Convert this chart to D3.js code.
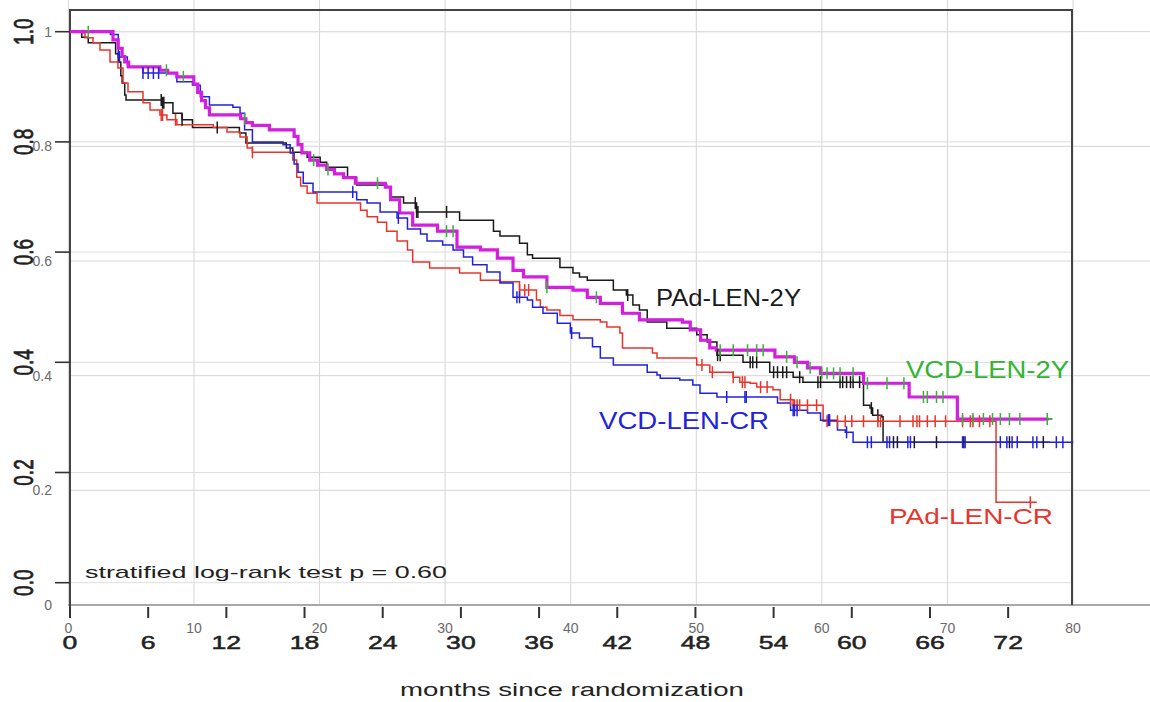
<!DOCTYPE html>
<html>
<head>
<meta charset="utf-8">
<script src="https://cdn.jsdelivr.net/npm/d3@7"></script>
<style>
  html, body { margin: 0; padding: 0; background: #fff; }
  svg { display: block; font-family: "Liberation Sans", Arial, sans-serif; }
</style>
</head>
<body>
<svg id="chart" width="1150" height="702"></svg>
<script>
// ---------- data (months since randomization, survival probability) ----------
const pad2yTimes = [0.9, 1.4, 3.5, 3.7, 3.9, 4.0, 4.2, 4.3, 7.1, 7.9, 8.6, 9.4, 13.0, 13.5, 16.6, 17.1, 18.2, 19.2, 19.7, 21.3, 22.0, 24.3, 24.6, 25.6, 26.6, 29.9, 32.5, 33.0, 34.5, 35.1, 35.5, 37.6, 38.6, 39.1, 39.7, 41.7, 42.7, 43.2, 43.7, 44.3, 45.8, 48.1, 48.9, 49.65, 51.65, 53.7, 55.5, 56.25, 60.9, 61.4, 61.6, 62.3, 62.4];
const pad2ySurv  = [0.99, 0.98, 0.96, 0.945, 0.92, 0.907, 0.885, 0.876, 0.871, 0.852, 0.84, 0.826, 0.816, 0.798, 0.789, 0.781, 0.772, 0.763, 0.754, 0.736, 0.722, 0.718, 0.70, 0.689, 0.673, 0.658, 0.638, 0.629, 0.616, 0.595, 0.589, 0.572, 0.562, 0.555, 0.549, 0.531, 0.522, 0.504, 0.495, 0.473, 0.462, 0.45, 0.437, 0.413, 0.40, 0.382, 0.373, 0.364, 0.322, 0.317, 0.304, 0.301, 0.255];
const pad2yEnd = 75.2;
const pad2yCensor = [7.0, 7.1, 7.2, 8.6, 11.3, 26.5, 26.6, 26.7, 28.9, 42.8, 49.7, 49.9, 52.2, 52.4, 52.7, 54.0, 54.3, 54.7, 55.0, 56.0, 57.4, 57.6, 59.1, 59.3, 59.6, 59.9, 60.1, 60.6, 61.5, 62.0, 63.2, 63.5, 64.8, 66.5, 68.6, 72.1, 74.7];

const padCrTimes = [0.92, 1.15, 1.77, 2.3, 3.07, 3.68, 4.07, 4.45, 5.6, 6.14, 6.9, 7.44, 8.2, 11.0, 12.05, 13.05, 13.6, 14.0, 17.1, 17.4, 17.7, 18.2, 18.96, 22.3, 22.8, 23.6, 24.3, 25.1, 25.9, 26.3, 27.6, 29.9, 31.5, 33.0, 34.5, 35.8, 36.1, 36.6, 37.6, 38.6, 40.7, 41.2, 42.2, 42.4, 44.7, 45.05, 48.1, 49.1, 50.9, 51.4, 52.2, 52.7, 53.95, 54.5, 55.5, 57.8, 71.07];
const padCrSurv  = [0.998, 0.989, 0.98, 0.967, 0.945, 0.934, 0.907, 0.891, 0.871, 0.858, 0.849, 0.84, 0.831, 0.826, 0.818, 0.809, 0.789, 0.781, 0.767, 0.736, 0.72, 0.707, 0.689, 0.676, 0.664, 0.654, 0.638, 0.62, 0.604, 0.582, 0.571, 0.562, 0.549, 0.546, 0.531, 0.513, 0.50, 0.495, 0.485, 0.477, 0.473, 0.464, 0.453, 0.426, 0.417, 0.408, 0.395, 0.382, 0.373, 0.364, 0.362, 0.355, 0.35, 0.332, 0.322, 0.293, 0.146];
const padCrEnd = 74.2;
const padCrCensor = [7.0, 7.1, 8.1, 14.0, 34.5, 34.9, 35.2, 48.5, 49.3, 50.9, 51.6, 51.8, 53.0, 53.5, 55.3, 55.6, 55.8, 56.0, 56.6, 57.3, 58.1, 58.9, 59.5, 60.0, 60.9, 62.0, 62.2, 63.7, 64.7, 65.0, 65.2, 65.8, 66.4, 67.2, 68.5, 69.1, 69.3, 69.8, 70.6, 73.7];

const vcdCrTimes = [3.1, 3.7, 4.4, 5.6, 8.2, 9.4, 10.0, 10.7, 12.5, 13.05, 13.4, 14.0, 16.35, 16.9, 17.2, 17.5, 17.9, 18.65, 22.0, 22.8, 23.8, 25.1, 25.9, 26.9, 27.4, 28.6, 29.4, 30.2, 30.9, 32.0, 33.0, 34.0, 35.1, 35.5, 36.3, 37.4, 38.4, 39.1, 40.1, 40.7, 41.7, 44.3, 45.05, 45.3, 46.8, 47.8, 48.35, 49.65, 54.3, 55.3, 56.6, 57.6, 58.9, 59.5, 60.1];
const vcdCrSurv  = [0.995, 0.954, 0.936, 0.925, 0.909, 0.903, 0.882, 0.867, 0.863, 0.852, 0.822, 0.80, 0.795, 0.78, 0.76, 0.745, 0.725, 0.709, 0.695, 0.689, 0.673, 0.662, 0.642, 0.633, 0.62, 0.613, 0.604, 0.591, 0.577, 0.564, 0.544, 0.518, 0.513, 0.50, 0.489, 0.471, 0.453, 0.444, 0.428, 0.408, 0.395, 0.382, 0.377, 0.371, 0.368, 0.359, 0.344, 0.337, 0.326, 0.313, 0.308, 0.295, 0.277, 0.273, 0.255];
const vcdCrEnd = 77.0;
const vcdCrCensor = [3.8, 5.6, 6.0, 6.4, 6.8, 21.7, 25.2, 34.3, 34.5, 38.5, 50.4, 51.8, 51.9, 55.5, 55.6, 55.8, 58.2, 58.3, 59.6, 61.2, 61.5, 62.7, 62.9, 64.3, 64.5, 68.5, 68.7, 71.4, 71.9, 72.3, 72.7, 73.9, 74.2, 75.7, 76.2];

const vcd2yTimes = [3.3, 3.7, 4.0, 4.2, 4.5, 6.9, 7.5, 8.2, 9.5, 9.8, 10.1, 10.4, 10.7, 13.1, 13.5, 14.0, 15.3, 17.2, 17.5, 17.8, 18.4, 19.0, 19.7, 20.3, 21.0, 21.9, 24.2, 24.6, 25.3, 26.3, 28.2, 29.7, 31.5, 32.8, 34.0, 34.8, 36.6, 38.6, 39.7, 40.7, 42.4, 43.7, 47.0, 47.6, 48.4, 49.1, 49.6, 54.1, 55.6, 56.6, 57.6, 60.9, 64.4, 68.1];
const vcd2ySurv  = [0.985, 0.97, 0.955, 0.945, 0.936, 0.930, 0.925, 0.918, 0.905, 0.89, 0.875, 0.862, 0.849, 0.842, 0.835, 0.83, 0.822, 0.81, 0.795, 0.78, 0.767, 0.758, 0.75, 0.742, 0.735, 0.725, 0.718, 0.695, 0.671, 0.649, 0.638, 0.609, 0.604, 0.589, 0.567, 0.555, 0.536, 0.531, 0.518, 0.507, 0.489, 0.477, 0.473, 0.459, 0.44, 0.426, 0.422, 0.41, 0.40, 0.39, 0.38, 0.362, 0.337, 0.297];
const vcd2yEnd = 75.4;
const vcd2yCensor = [1.4, 7.4, 8.7, 13.4, 18.7, 19.8, 23.6, 28.9, 29.4, 36.6, 40.4, 49.9, 50.9, 52.0, 52.7, 53.2, 55.0, 55.8, 56.8, 57.7, 58.1, 58.6, 59.1, 60.1, 61.2, 62.7, 64.0, 65.5, 65.8, 66.5, 67.0, 68.5, 69.3, 70.1, 70.8, 71.4, 72.1, 72.9, 75.0];

// tick labels
const monthTicks = [0, 6, 12, 18, 24, 30, 36, 42, 48, 54, 60, 66, 72];
const survTicks = [0.0, 0.2, 0.4, 0.6, 0.8, 1.0];
const bgXTicks = [0, 10, 20, 30, 40, 50, 60, 70, 80];
const bgYTicks = [0, 0.2, 0.4, 0.6, 0.8, 1];

// ---------- scales ----------
const svg = d3.select("#chart");
const x = d3.scaleLinear().domain([0, 77]).range([70, 1073.3]);
const y = d3.scaleLinear().domain([0, 1]).range([582.7, 31.7]);
const gx = d3.scaleLinear().domain([0, 80]).range([68.4, 1073]);
const gy = d3.scaleLinear().domain([0, 1]).range([605, 31.7]);

svg.append("rect").attr("width", 1150).attr("height", 702).attr("fill", "#fff");

// ---------- background grid (second coordinate system) ----------
const bg = svg.append("g");
bg.selectAll("line.bgv").data(bgXTicks).join("line")
  .attr("x1", d => gx(d)).attr("x2", d => gx(d)).attr("y1", 0).attr("y2", 605)
  .attr("stroke", "#d6d6d6").attr("stroke-width", 1);
bg.selectAll("line.bgh").data(bgYTicks.filter(d => d > 0)).join("line")
  .attr("x1", 70).attr("x2", 1150).attr("y1", d => gy(d)).attr("y2", d => gy(d))
  .attr("stroke", "#d6d6d6").attr("stroke-width", 1);
bg.append("line").attr("x1", 68).attr("x2", 1150).attr("y1", gy(0)).attr("y2", gy(0))
  .attr("stroke", "#a8a8a8").attr("stroke-width", 2);
bg.selectAll("text.bgx").data(bgXTicks).join("text")
  .attr("x", d => gx(d)).attr("y", 633).attr("text-anchor", "middle")
  .attr("font-size", 14).attr("fill", "#6a6a6a").text(d => d);
bg.selectAll("text.bgy").data(bgYTicks).join("text")
  .attr("x", 52).attr("y", d => gy(d) + 5).attr("text-anchor", "end")
  .attr("font-size", 14).attr("fill", "#6a6a6a").text(d => d === 0 ? "0" : d === 1 ? "1" : d.toFixed(1));

// foreground horizontal grid
svg.selectAll("line.fgh").data(survTicks).join("line")
  .attr("x1", 70).attr("x2", 1072).attr("y1", d => y(d)).attr("y2", d => y(d))
  .attr("stroke", "#dedede").attr("stroke-width", 1);

// ---------- frame and axes ----------
svg.append("path").attr("d", "M70,618 L70,10 L1072,10 L1072,605")
  .attr("fill", "none").attr("stroke", "#444").attr("stroke-width", 2);

svg.selectAll("line.yt").data(survTicks).join("line")
  .attr("x1", 55).attr("x2", 70).attr("y1", d => y(d)).attr("y2", d => y(d))
  .attr("stroke", "#333").attr("stroke-width", 1.6);
svg.selectAll("text.yl").data(survTicks).join("text")
  .attr("transform", d => `translate(33,${y(d)}) rotate(-90) scale(1,1.45)`)
  .attr("text-anchor", "middle").attr("font-size", 19).attr("fill", "#222")
  .attr("stroke", "#222").attr("stroke-width", 0.5)
  .text(d => d.toFixed(1));

svg.selectAll("line.xt").data(monthTicks).join("line")
  .attr("x1", d => x(d)).attr("x2", d => x(d)).attr("y1", 607).attr("y2", 618)
  .attr("stroke", "#333").attr("stroke-width", 2);
svg.selectAll("text.xl").data(monthTicks).join("text")
  .attr("transform", d => `translate(${x(d)},649) scale(1.4,1)`)
  .attr("text-anchor", "middle").attr("font-size", 19).attr("fill", "#222")
  .attr("stroke", "#222").attr("stroke-width", 0.5)
  .text(d => d);

svg.append("text").attr("x", 400).attr("y", 696)
  .attr("textLength", 344).attr("lengthAdjust", "spacingAndGlyphs")
  .attr("font-size", 18).attr("fill", "#222").text("months since randomization");

// ---------- curves ----------
function steps(times, surv, end) {
  const pts = [[0, 1]];
  times.forEach((t, i) => pts.push([t, surv[i]]));
  pts.push([end, surv[surv.length - 1]]);
  return pts;
}
function survAt(times, surv, t) {
  const i = d3.bisectRight(times, t);
  return i === 0 ? 1 : surv[i - 1];
}
const line = d3.line().x(d => x(d[0])).y(d => y(d[1])).curve(d3.curveStepAfter);

const series = [
  { name: "pad2y", times: pad2yTimes, surv: pad2ySurv, end: pad2yEnd, cens: pad2yCensor, color: "#1a1a1a", width: 1.5 },
  { name: "padcr", times: padCrTimes, surv: padCrSurv, end: padCrEnd, cens: padCrCensor, color: "#e8352c", width: 1.5 },
  { name: "vcdcr", times: vcdCrTimes, surv: vcdCrSurv, end: vcdCrEnd, cens: vcdCrCensor, color: "#2222dd", width: 1.5 },
  { name: "vcd2y", times: vcd2yTimes, surv: vcd2ySurv, end: vcd2yEnd, cens: vcd2yCensor, color: "#33b533", width: 2 }
];

series.forEach(s => {
  svg.append("path").datum(steps(s.times, s.surv, s.end))
    .attr("d", line).attr("fill", "none")
    .attr("stroke", s.color).attr("stroke-width", s.width);
});
// magenta overlay of VCD-LEN-2Y
svg.append("path").datum(steps(vcd2yTimes, vcd2ySurv, vcd2yEnd - 0.3))
  .attr("d", line).attr("fill", "none")
  .attr("stroke", "#d41fe0").attr("stroke-width", 3.2);

series.forEach(s => {
  svg.selectAll(null).data(s.cens).join("line")
    .attr("x1", d => x(d)).attr("x2", d => x(d))
    .attr("y1", d => y(survAt(s.times, s.surv, d)) - 6)
    .attr("y2", d => y(survAt(s.times, s.surv, d)) + 6)
    .attr("stroke", s.color).attr("stroke-width", 1.5);
});

// ---------- labels ----------
svg.append("text").attr("x", 656).attr("y", 306).attr("textLength", 145).attr("lengthAdjust", "spacingAndGlyphs")
  .attr("font-size", 24).attr("fill", "#1a1a1a").text("PAd-LEN-2Y");
svg.append("text").attr("x", 906).attr("y", 378).attr("textLength", 163).attr("lengthAdjust", "spacingAndGlyphs")
  .attr("font-size", 23).attr("fill", "#33b533").text("VCD-LEN-2Y");
svg.append("text").attr("x", 599).attr("y", 429).attr("textLength", 170).attr("lengthAdjust", "spacingAndGlyphs")
  .attr("font-size", 24).attr("fill", "#2222dd").text("VCD-LEN-CR");
svg.append("text").attr("x", 889).attr("y", 524).attr("textLength", 164).attr("lengthAdjust", "spacingAndGlyphs")
  .attr("font-size", 22).attr("fill", "#e8352c").text("PAd-LEN-CR");
svg.append("text").attr("x", 85).attr("y", 578).attr("textLength", 362).attr("lengthAdjust", "spacingAndGlyphs")
  .attr("font-size", 17).attr("fill", "#222").text("stratified log-rank test p = 0.60");
</script>
</body>
</html>
